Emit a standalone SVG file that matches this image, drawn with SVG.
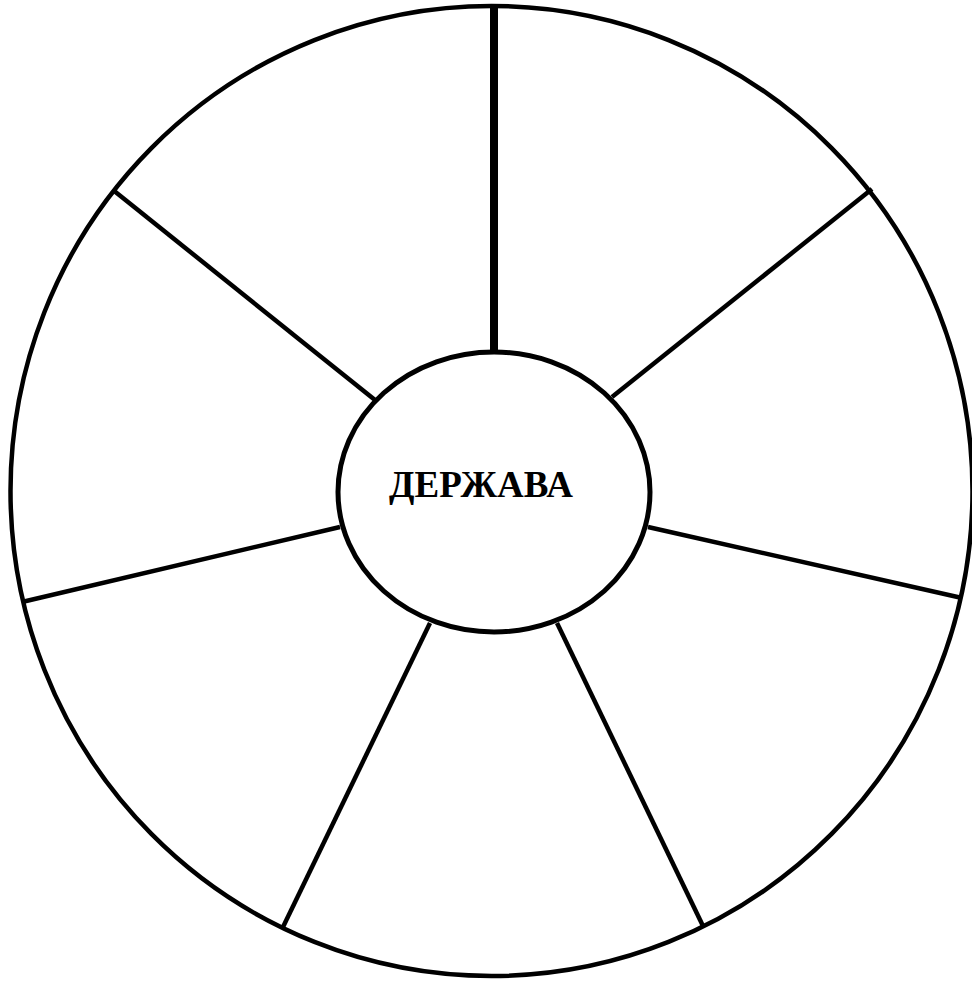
<svg xmlns="http://www.w3.org/2000/svg" width="972" height="981" viewBox="0 0 972 981">
<style>
.ln{stroke:#000;stroke-width:4.5;fill:none;stroke-linecap:butt}
.outer{stroke:#000;stroke-width:4.5;fill:#fff}
.inner{stroke:#000;stroke-width:5;fill:#fff}
.lbl{font-family:"Liberation Serif","Times New Roman",serif;font-weight:bold;font-size:37px;fill:#000}
</style>
<rect width="972" height="981" fill="#fff"/>
<g id="outer-circle">
<ellipse class="outer" cx="491.5" cy="491" rx="481" ry="485"/>
</g>
<g id="connectors">
<line class="ln" x1="494" y1="352" x2="494" y2="7" style="stroke-width:8"/>
<line class="ln" x1="612" y1="397" x2="872" y2="189"/>
<line class="ln" x1="648" y1="527" x2="962" y2="598"/>
<line class="ln" x1="557" y1="623" x2="703" y2="926"/>
<line class="ln" x1="430" y1="623" x2="283" y2="927"/>
<line class="ln" x1="340" y1="527" x2="22" y2="602"/>
<line class="ln" x1="375" y1="400" x2="113" y2="190"/>
</g>
<g id="center">
<ellipse class="inner" cx="494" cy="492" rx="156" ry="140"/>
<text class="lbl" x="481" y="497" text-anchor="middle">ДЕРЖАВА</text>
</g>
</svg>
